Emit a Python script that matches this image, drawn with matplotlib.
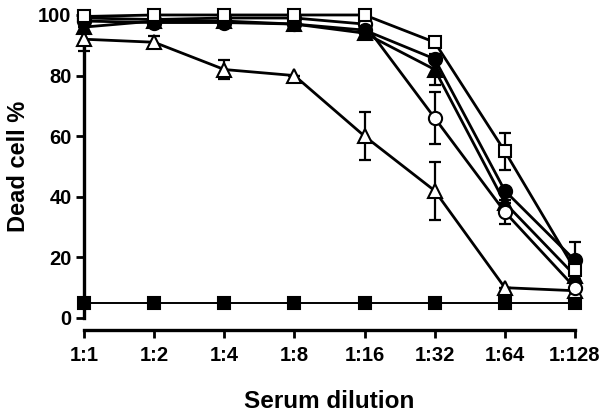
import matplotlib
matplotlib.use("Agg")
import matplotlib.pyplot as plt

categories = ["1:1", "1:2", "1:4", "1:8", "1:16", "1:32", "1:64", "1:128"]
open_square = [99.5, 100, 100, 100, 100, 91, 55, 16]
open_square_err = [0, 0, 0, 0, 0, 1, 6, 0]
filled_circle = [98, 97.5, 97.5, 97, 95, 85.5, 42, 19]
filled_circle_err = [0, 0, 0, 0, 0, 0, 0, 6]
open_circle = [99, 98.5, 99, 99, 97, 66, 35, 10]
open_circle_err = [0, 0, 0, 0, 0, 8.5, 4, 0]
filled_triangle = [96, 98, 98, 97, 94, 82, 38, 14]
filled_triangle_err = [0, 0, 0, 0, 0, 5, 0, 0]
open_triangle = [92, 91, 82, 80, 60, 42, 10, 9]
open_triangle_err = [4, 2, 3, 0, 8, 9.5, 0, 0]
filled_square = [5, 5, 5, 5, 5, 5, 5, 5]
yticks = [0, 20, 40, 60, 80, 100]

plt.rcParams['font.family'] = ['Liberation Sans', 'DejaVu Sans']
plt.rcParams['font.weight'] = 'bold'

fig = plt.figure(figsize=(6, 4.16), dpi=100)
ax = fig.add_axes([0.14, 0.2356, 0.8183, 0.7284])
x = list(range(len(categories)))

series = [
    (filled_square, None, 's', 'black'),
    (open_triangle, open_triangle_err, '^', 'white'),
    (filled_triangle, filled_triangle_err, '^', 'black'),
    (open_circle, open_circle_err, 'o', 'white'),
    (filled_circle, filled_circle_err, 'o', 'black'),
    (open_square, open_square_err, 's', 'white'),
]
for i, (vals, err, m, fc) in enumerate(series):
    if err is not None:
        ax.errorbar(x, vals, yerr=err, fmt='none', ecolor='black', elinewidth=1.6,
                    capsize=4, capthick=1.6, clip_on=False, zorder=2 + i)
    lw = 1.4 if m == 's' and fc == 'black' else 2.0
    ax.plot(x, vals, color='black', linewidth=lw, marker=m, markersize=9.5 if m != 's' else 9,
            markerfacecolor=fc, markeredgecolor='black', markeredgewidth=1.5,
            clip_on=False, zorder=3 + i)

ax.set_xlim(0, 7)
ax.set_ylim(0, 100)
ax.set_xticks(x)
ax.set_xticklabels(categories)
ax.set_yticks(yticks)
for s in ['top', 'right']:
    ax.spines[s].set_visible(False)
ax.spines['left'].set_linewidth(2.4)
ax.spines['bottom'].set_linewidth(2.4)
ax.spines['bottom'].set_position(('outward', 9))
ax.spines['left'].set_bounds(0, 100)
ax.spines['bottom'].set_bounds(0, 7)
ax.tick_params(axis='both', direction='out', width=2, length=6, labelsize=14.5, pad=3)
ax.tick_params(axis='x', pad=5)
for lab in ax.get_xticklabels() + ax.get_yticklabels():
    lab.set_fontweight('bold')
ax.set_xlabel("Serum dilution", fontsize=17.5, fontweight='bold', labelpad=18)
ax.set_ylabel("Dead cell %", fontsize=17, fontweight='bold', labelpad=6)

fig.savefig("out.png", dpi=100)
